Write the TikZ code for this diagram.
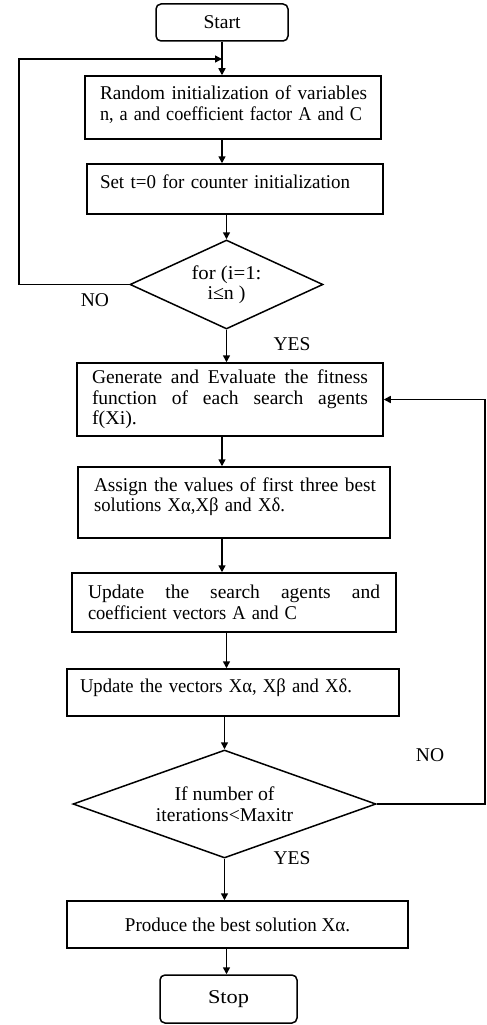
\documentclass[tikz,border=0pt]{standalone}
\usepackage{fontspec}
\usepackage{graphicx}
\setmainfont{Liberation Serif}
\usetikzlibrary{shapes.geometric,arrows.meta}
\newcommand{\jline}[2]{\leavevmode\hbox to #1{#2}}
\newcommand{\up}[2]{\raisebox{#1}[\height][\depth]{#2}}
\newcommand{\fw}[2]{\resizebox{#1}{\height}{#2}}
\begin{document}
\begin{tikzpicture}[x=1pt,y=-1pt,
  every node/.style={font=\fontsize{19.5}{20.5}\selectfont},
  proc/.style={draw, line width=1.5pt, rectangle, align=left, inner ysep=2pt},
  term/.style={draw, line width=1.5pt, rectangle, rounded corners=5pt, align=center},
  dec/.style={draw, line width=1.5pt, diamond, align=center, inner sep=0pt},
  arr/.style={line width=1.5pt, -{Triangle[length=7pt,width=7pt]}},
  lbl/.style={inner sep=0pt}]
\fill[white] (0,0) rectangle (487,1025);
\useasboundingbox (0,0) rectangle (487,1025);

\node[term, minimum width=132pt, minimum height=37pt] (start) at (222,22.5) {\fw{37pt}{Start}};
\node[proc, minimum height=63pt, text width=270pt, inner xsep=13pt] (b1) at (233,107.5)
  {\up{3pt}{\hspace{2pt}\fw{267pt}{Random initialization of variables}}\\\up{3pt}{\hspace{2pt}\fw{262pt}{n, a and coefficient factor A and C}}};
\node[proc, minimum height=50pt, text width=270pt, inner xsep=13pt] (b2) at (235,189)
  {\up{7pt}{\fw{250pt}{Set t=0 for counter initialization}}};
\node[dec, aspect=2.4, minimum width=193pt, minimum height=89pt] (d1) at (226.5,284.5)
  {\fw{70pt}{for (i=1:}\\\fw{38pt}{i≤n )}};
\node[proc, minimum height=73pt, text width=276pt, inner xsep=15pt] (b3) at (230,399.5)
  {\jline{276pt}{Generate\hfill and\hfill Evaluate\hfill the\hfill fitness}\\\jline{276pt}{function\hfill of\hfill each\hfill search\hfill agents}\\\fw{45pt}{f(Xi).}};
\node[proc, minimum height=71pt, text width=284pt, inner xsep=14pt] (b4) at (234,502.5)
  {\up{6pt}{\hspace{2pt}\fw{282pt}{Assign the values of first three best}}\\\up{6pt}{\hspace{2pt}\fw{191pt}{solutions Xα,Xβ and Xδ.}}};
\node[proc, minimum height=59pt, text width=292pt, inner xsep=16pt] (b5) at (234,602.5)
  {\jline{292pt}{Update\hfill the\hfill search\hfill agents\hfill and}\\\fw{209pt}{coefficient vectors A and C}};
\node[proc, minimum height=47pt, text width=306pt, inner xsep=13pt] (b6) at (233,692.5)
  {\up{5pt}{\fw{272pt}{Update the vectors Xα, Xβ and Xδ.}}};
\node[dec, aspect=3.0, minimum width=303pt, minimum height=108pt] (d2) at (224.5,804)
  {\fw{100pt}{If number of}\\\fw{137pt}{iterations<Maxitr}};
\node[proc, minimum width=341pt, minimum height=47pt, align=center] (b7) at (237.5,924.5)
  {\fw{225pt}{Produce the best solution Xα.}};
\node[term, minimum width=137pt, minimum height=48pt] (stop) at (228.5,999) {\fw{41pt}{Stop}};

\node[lbl] (no1) at (95,300) {NO};
\node[lbl] (yes1) at (292,344) {YES};
\node[lbl] (no2) at (430,755) {NO};
\node[lbl] (yes2) at (292,858) {YES};

\coordinate (j1) at (222,59);
\coordinate (l1) at (19,0);
\coordinate (r1) at (485,0);

\draw[arr] (start.south) -- (b1.north -| start);
\draw[arr] (b1.south -| start) -- (b2.north -| start);
\draw[arr] (b2.south -| d1) -- (d1.north);
\draw[arr] (d1.south) -- (b3.north -| d1);
\draw[arr] (b3.south -| start) -- (b4.north -| start);
\draw[arr] (b4.south -| start) -- (b5.north -| start);
\draw[arr] (b5.south -| d1) -- (b6.north -| d1);
\draw[arr] (b6.south -| d2) -- (d2.north);
\draw[arr] (d2.south) -- (b7.north -| d2);
\draw[arr] (b7.south -| d1) -- (stop.north -| d1);

\draw[arr] (d1.west) -- (d1.west -| l1) -- (j1 -| l1) -- (j1);
\draw[arr] (d2.east) -- (d2.east -| r1) -- (b3.east -| r1) -- (b3.east);
\end{tikzpicture}
\end{document}
